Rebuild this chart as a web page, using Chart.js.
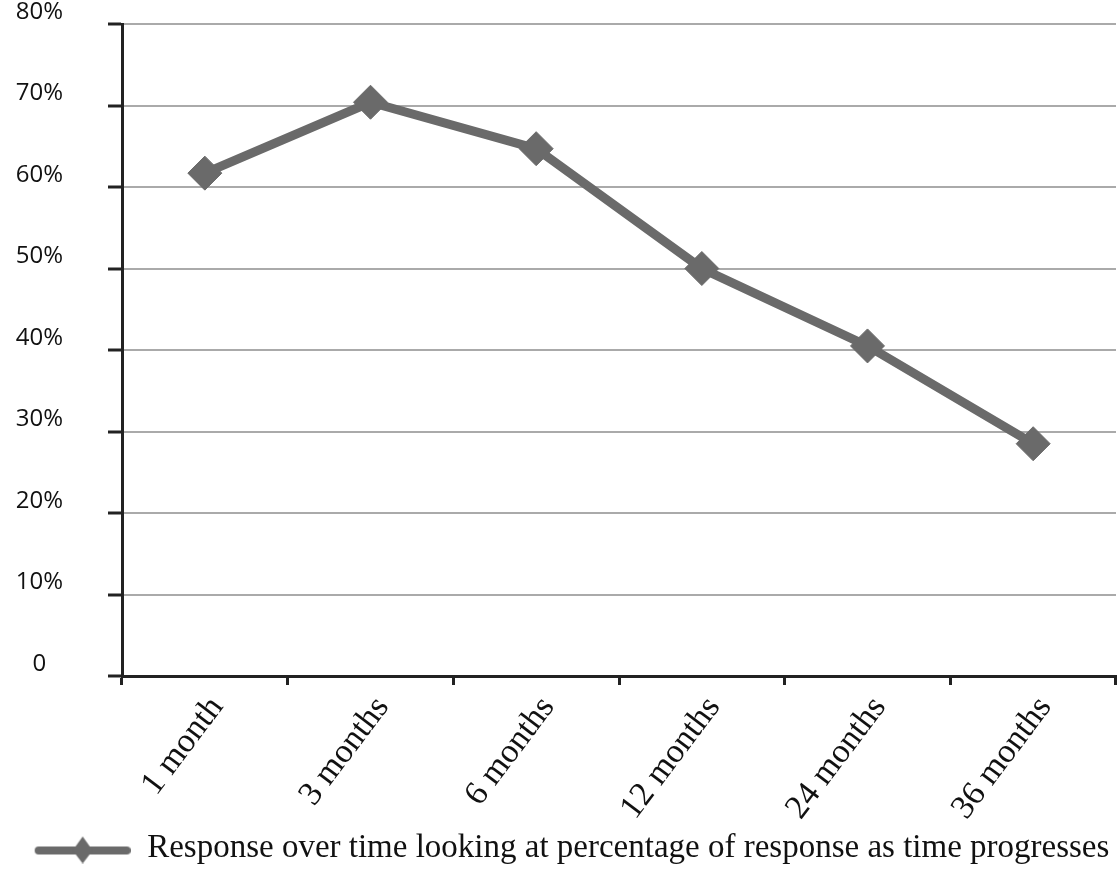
<!DOCTYPE html>
<html>
<head>
<meta charset="utf-8">
<script src="https://cdn.jsdelivr.net/npm/chart.js@4/dist/chart.umd.min.js"></script>
<style>
  html, body { margin: 0; padding: 0; background: #fff; }
  #wrap { width: 1117px; height: 875px; }
</style>
</head>
<body>
<div id="wrap"><canvas id="chart" width="1117" height="875"></canvas></div>
<script>
// values
const categories = ['1 month', '3 months', '6 months', '12 months', '24 months', '36 months'];
const responseValues = [61.7, 70.4, 64.7, 50, 40.5, 28.5];
const yTicks = [0, 10, 20, 30, 40, 50, 60, 70, 80];
const seriesLabel = 'Response over time looking at percentage of response as time progresses';

const lineColor = '#6a6a6a';

// legend symbol: thick line with a diamond in the middle (left part left blank to nudge it right)
function legendSymbol() {
  const c = document.createElement('canvas');
  c.width = 124;
  c.height = 30;
  const ctx = c.getContext('2d');
  ctx.strokeStyle = lineColor;
  ctx.lineWidth = 8;
  ctx.lineCap = 'round';
  ctx.beginPath();
  ctx.moveTo(32, 17);
  ctx.lineTo(120, 17);
  ctx.stroke();
  ctx.fillStyle = lineColor;
  ctx.beginPath();
  ctx.moveTo(76, 3);
  ctx.lineTo(86, 17);
  ctx.lineTo(76, 30);
  ctx.lineTo(66, 17);
  ctx.closePath();
  ctx.fill();
  return c;
}

new Chart(document.getElementById('chart'), {
  type: 'line',
  data: {
    labels: categories,
    datasets: [{
      label: seriesLabel,
      data: responseValues,
      borderColor: lineColor,
      backgroundColor: lineColor,
      borderWidth: 9,
      pointStyle: 'rectRot',
      pointRadius: 17,
      pointBorderWidth: 1,
      pointBackgroundColor: lineColor,
      pointBorderColor: lineColor,
      tension: 0
    }]
  },
  options: {
    responsive: false,
    animation: false,
    layout: { autoPadding: false, padding: { top: 24, right: 1, left: 0, bottom: 0 } },
    plugins: {
      tooltip: { enabled: false },
      legend: {
        position: 'bottom',
        labels: {
          usePointStyle: true,
          pointStyle: legendSymbol(),
          pointStyleWidth: 124,
          padding: 8,
          color: '#111',
          font: { family: '"Liberation Serif", "DejaVu Serif", serif', size: 33 }
        }
      }
    },
    scales: {
      x: {
        offset: true,
        grid: {
          offset: true,
          drawOnChartArea: false,
          drawTicks: true,
          tickLength: 9,
          tickWidth: 3,
          tickColor: '#222'
        },
        border: { display: true, color: '#222', width: 3 },
        ticks: {
          minRotation: 53,
          maxRotation: 53,
          autoSkip: false,
          labelOffset: 12,
          padding: 4,
          color: '#111',
          font: { family: '"Liberation Serif", "DejaVu Serif", serif', size: 34 }
        },
        afterFit: (scale) => {
          scale.height = 148;
          scale.paddingLeft = 0;
          scale.paddingRight = 0;
        }
      },
      y: {
        min: 0,
        max: 80,
        afterBuildTicks: (scale) => { scale.ticks = yTicks.map(v => ({ value: v })); },
        grid: {
          color: '#aaaaaa',
          lineWidth: 2,
          drawTicks: true,
          tickLength: 14,
          tickWidth: 3,
          tickColor: '#222'
        },
        border: { display: true, color: '#222', width: 3 },
        ticks: {
          crossAlign: 'center',
          padding: 45,
          labelOffset: -12,
          color: '#111',
          font: { family: '"Open Sans", "Noto Sans", sans-serif', size: 24 },
          callback: (v) => v === 0 ? '0' : v + '%'
        },
        afterFit: (scale) => {
          scale.width = 122;
          scale.paddingTop = 0;
          scale.paddingBottom = 0;
        }
      }
    }
  }
});
</script>
</body>
</html>
